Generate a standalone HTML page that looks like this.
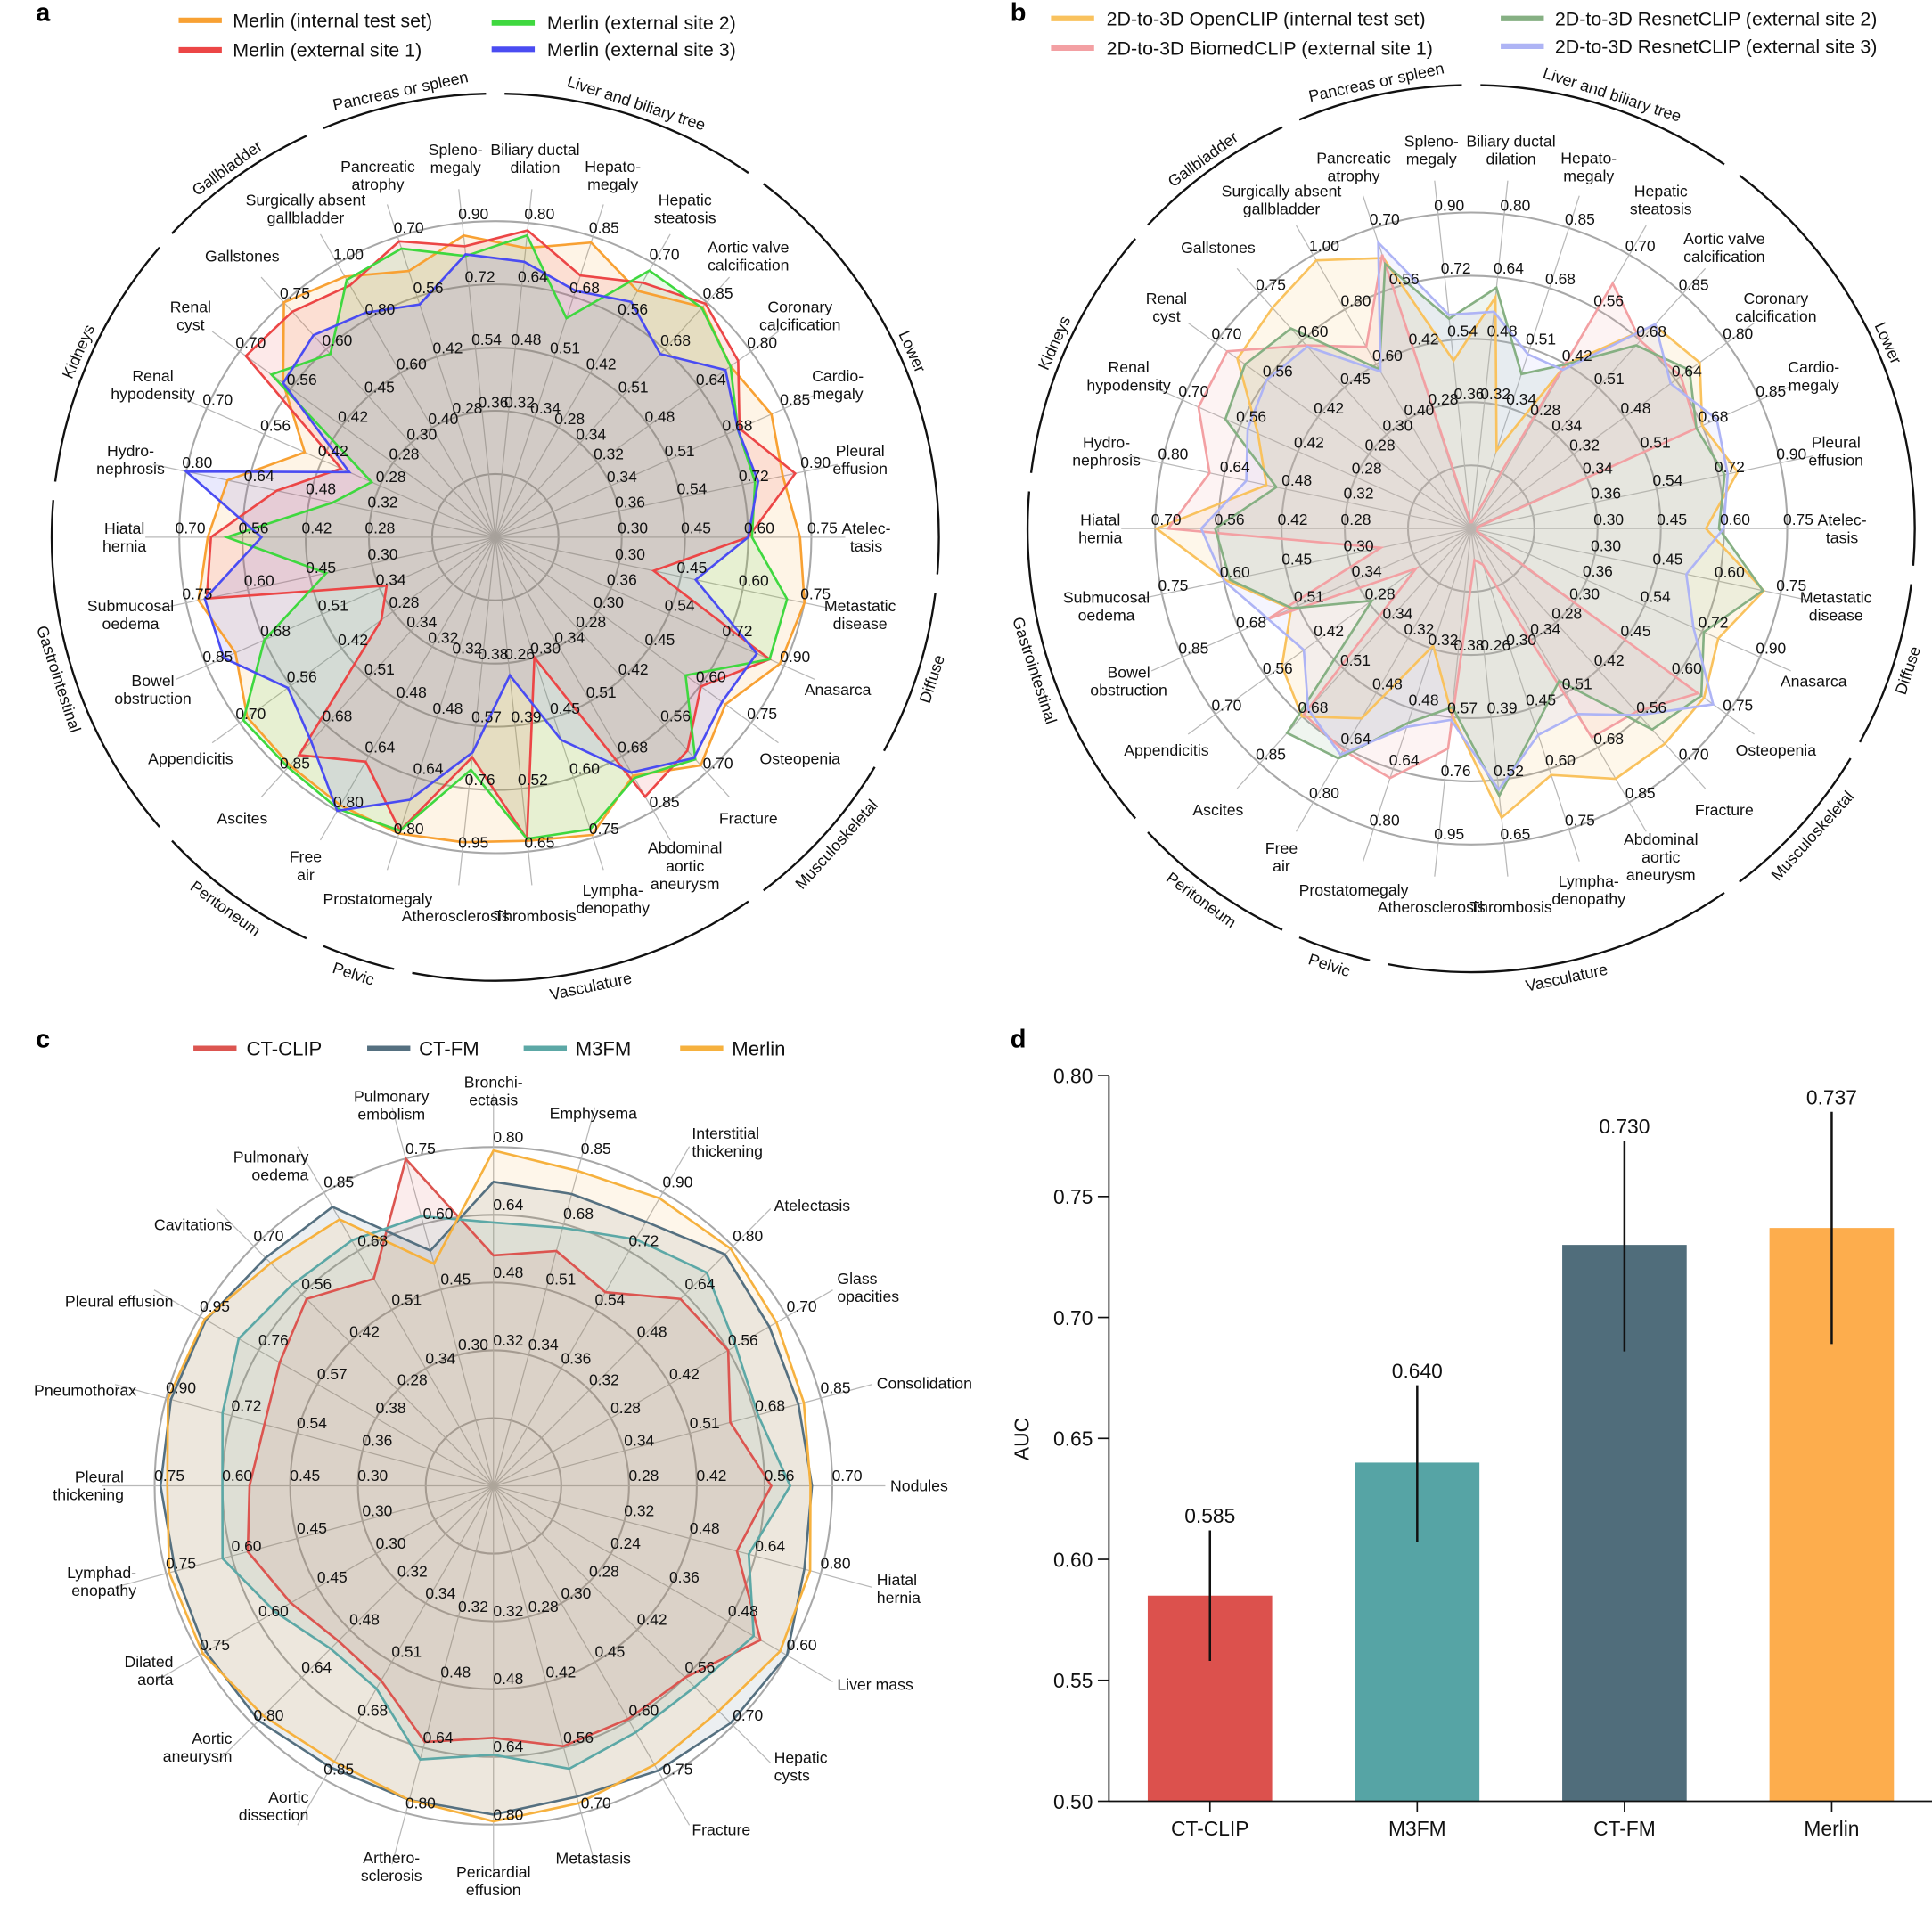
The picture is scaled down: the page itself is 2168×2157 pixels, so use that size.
<!DOCTYPE html>
<html><head><meta charset="utf-8"><title>Radar and bar chart figure</title>
<style>
html,body{margin:0;padding:0;background:#fff;}
svg{display:block;font-family:"Liberation Sans",Arial,sans-serif;}
</style></head>
<body>
<svg id="fig" xmlns="http://www.w3.org/2000/svg" viewBox="0 0 1568 1560" width="2168" height="2157" preserveAspectRatio="none">
<rect x="0" y="0" width="1568" height="1560" fill="#ffffff"/>
<text x="29" y="17" font-size="21" font-weight="bold">a</text>
<text x="820" y="17" font-size="21" font-weight="bold">b</text>
<text x="29" y="850" font-size="21" font-weight="bold">c</text>
<text x="820" y="850" font-size="21" font-weight="bold">d</text>
</svg>
<script>
// ---------- DATA ----------
const aLabels = ["Biliary ductal|dilation","Hepato-|megaly","Hepatic|steatosis","Aortic valve|calcification","Coronary|calcification","Cardio-|megaly","Pleural|effusion","Atelec-|tasis","Metastatic|disease","Anasarca","Osteopenia","Fracture","Abdominal|aortic|aneurysm","Lympha-|denopathy","Thrombosis","Atherosclerosis","Prostatomegaly","Free|air","Ascites","Appendicitis","Bowel|obstruction","Submucosal|oedema","Hiatal|hernia","Hydro-|nephrosis","Renal|hypodensity","Renal|cyst","Gallstones","Surgically absent|gallbladder","Pancreatic|atrophy","Spleno-|megaly"];
const aTicks = [[.32,.48,.64,.80],[.34,.51,.68,.85],[.28,.42,.56,.70],[.34,.51,.68,.85],[.32,.48,.64,.80],[.34,.51,.68,.85],[.36,.54,.72,.90],[.30,.45,.60,.75],[.30,.45,.60,.75],[.36,.54,.72,.90],[.30,.45,.60,.75],[.28,.42,.56,.70],[.34,.51,.68,.85],[.30,.45,.60,.75],[.26,.39,.52,.65],[.38,.57,.76,.95],[.32,.48,.64,.80],[.32,.48,.64,.80],[.34,.51,.68,.85],[.28,.42,.56,.70],[.34,.51,.68,.85],[.30,.45,.60,.75],[.28,.42,.56,.70],[.32,.48,.64,.80],[.28,.42,.56,.70],[.28,.42,.56,.70],[.30,.45,.60,.75],[.40,.60,.80,1.00],[.28,.42,.56,.70],[.36,.54,.72,.90]];
const groupNames = ["Liver and biliary tree","Lower","Diffuse","Musculoskeletal","Vasculature","Pelvic","Peritoneum","Gastrointestinal","Kidneys","Gallbladder","Pancreas or spleen"];
const groupFirst = [0,3,8,10,12,16,17,19,23,26,28];
const groupLast  = [2,7,9,11,15,16,18,22,25,27,29];

const aMerlinInternal = [.736,.833,.63,.833,.736,.813,.837,.723,.75,.887,.675,.68,.741,.743,.628,.922,.789,.784,.826,.679,.765,.72,.637,.693,.462,.581,.75,.952,.62,.864];
const aMerlinSite1    = [.781,.74,.651,.845,.76,.719,.873,.60,.384,.855,.603,.636,.806,.30,.624,.665,.781,.656,.789,.312,.32,.70,.63,.566,.374,.683,.72,.92,.689,.833];
const aMerlinSite2    = [.768,.619,.682,.83,.736,.714,.756,.609,.708,.855,.558,.662,.748,.729,.624,.703,.781,.795,.833,.69,.68,.41,.595,.421,.30,.613,.585,.94,.672,.805];
const aMerlinSite3    = [.701,.697,.602,.663,.72,.714,.765,.60,.486,.815,.665,.658,.731,.506,.286,.65,.699,.80,.74,.568,.799,.705,.518,.80,.354,.581,.645,.82,.542,.81];
const aSeriesNames = ["Merlin (internal test set)","Merlin (external site 1)","Merlin (external site 2)","Merlin (external site 3)"];

const bOpenClip = [.589,.221,.42,.736,.715,.68,.776,.557,.71,.77,.683,.641,.777,.615,.598,.561,.312,.555,.68,.518,.53,.594,.697,.53,.517,.64,.705,.98,.63,.481];
const bBiomed   = [.016,.034,.627,.68,.656,.663,.018,.015,.015,.018,.665,.546,.649,.09,.065,.665,.664,.648,.672,.151,.598,.219,.671,.677,.661,.668,.585,.664,.638,.018];
const bResnet2  = [.613,.437,.42,.663,.683,.663,.738,.588,.708,.725,.675,.599,.473,.495,.553,.54,.517,.672,.74,.272,.527,.585,.567,.504,.596,.619,.639,.582,.616,.601];
const bResnet3  = [.552,.493,.406,.74,.624,.723,.747,.599,.522,.693,.71,.556,.576,.515,.54,.578,.528,.661,.655,.458,.598,.599,.598,.582,.542,.56,.581,.574,.666,.612];
const bSeriesNames = ["2D-to-3D OpenCLIP (internal test set)","2D-to-3D BiomedCLIP (external site 1)","2D-to-3D ResnetCLIP (external site 2)","2D-to-3D ResnetCLIP (external site 3)"];

const cLabels = ["Bronchi-|ectasis","Emphysema","Interstitial|thickening","Atelectasis","Glass|opacities","Consolidation","Nodules","Hiatal|hernia","Liver mass","Hepatic|cysts","Fracture","Metastasis","Pericardial|effusion","Arthero-|sclerosis","Aortic|dissection","Aortic|aneurysm","Dilated|aorta","Lymphad-|enopathy","Pleural|thickening","Pneumothorax","Pleural effusion","Cavitations","Pulmonary|oedema","Pulmonary|embolism"];
const cTicks = [[.32,.48,.64,.80],[.34,.51,.68,.85],[.36,.54,.72,.90],[.32,.48,.64,.80],[.28,.42,.56,.70],[.34,.51,.68,.85],[.28,.42,.56,.70],[.32,.48,.64,.80],[.24,.36,.48,.60],[.28,.42,.56,.70],[.30,.45,.60,.75],[.28,.42,.56,.70],[.32,.48,.64,.80],[.32,.48,.64,.80],[.34,.51,.68,.85],[.32,.48,.64,.80],[.30,.45,.60,.75],[.30,.45,.60,.75],[.30,.45,.60,.75],[.36,.54,.72,.90],[.38,.57,.76,.95],[.28,.42,.56,.70],[.34,.51,.68,.85],[.30,.45,.60,.75]];
const cCtClip = [.544,.61,.594,.624,.56,.615,.574,.595,.546,.56,.596,.557,.595,.626,.564,.518,.518,.563,.54,.63,.692,.546,.60,.749];
const cCtFm   = [.718,.758,.81,.773,.658,.792,.658,.76,.60,.693,.728,.665,.776,.768,.816,.784,.735,.729,.737,.887,.931,.666,.808,.539];
const cM3fm   = [.622,.67,.756,.712,.578,.687,.613,.624,.532,.588,.63,.605,.635,.669,.587,.544,.558,.621,.60,.745,.825,.588,.711,.618];
const cMerlin = [.792,.818,.882,.792,.675,.806,.655,.774,.586,.658,.713,.679,.792,.768,.799,.768,.743,.743,.722,.895,.935,.651,.772,.509];
const cSeriesNames = ["CT-CLIP","CT-FM","M3FM","Merlin"];

const dModels = ["CT-CLIP","M3FM","CT-FM","Merlin"];
const dAuc    = [0.585,0.640,0.730,0.737];
const dLow    = [0.558,0.607,0.686,0.689];
const dHigh   = [0.612,0.672,0.773,0.785];
const dTicks  = [0.50,0.55,0.60,0.65,0.70,0.75,0.80];

// ---------- DRAWING ----------
const NS = "http://www.w3.org/2000/svg";
const svg = document.getElementById("fig");
function mk(tag, attrs, parent){
  const e = document.createElementNS(NS, tag);
  for (const k in attrs) e.setAttribute(k, attrs[k]);
  parent.appendChild(e);
  return e;
}
function pt(cx, cy, r, deg){
  const t = deg*Math.PI/180;
  return [cx + r*Math.sin(t), cy - r*Math.cos(t)];
}
function slug(s){ return s.toLowerCase().replace(/[^a-z0-9]+/g,"-").replace(/^-|-$/g,""); }

function multiText(parent, x, y, lines, size, anchor, lh){
  const t = mk("text", {x:x, y:y, "font-size":size, "text-anchor":anchor, fill:"#111"}, parent);
  const off = -(lines.length-1)*lh/2 + size*0.35;
  lines.forEach((ln, j) => {
    const s = mk("tspan", {x:x, dy:(j===0? off : lh)}, t);
    s.textContent = ln;
  });
  return t;
}

function radar(cfg){
  const g = mk("g", {}, svg);
  
  
  const n = cfg.labels.length, da = 360/n;
  const ang = i => cfg.a0 + i*da;
  for (let k=1; k<=5; k++){
    const c = mk("circle", {cx:cfg.cx, cy:cfg.cy, r:k*cfg.u, fill:"none", stroke:"#a8a8a8", "stroke-width":1.5}, g);
    
    
  }
  for (let i=0; i<n; i++){
    const p = pt(cfg.cx, cfg.cy, cfg.spokeEnd, ang(i));
    const l = mk("line", {x1:cfg.cx, y1:cfg.cy, x2:p[0], y2:p[1], stroke:"#b8b8b8", "stroke-width":0.9}, g);
    
    
  }
  const toPts = vals => vals.map((v, i) => {
      const t = cfg.ticks[i];
      let r = cfg.u*(2 + (v - t[0])/(t[1]-t[0]));
      if (r < 0) r = 0;
      const p = pt(cfg.cx, cfg.cy, r, ang(i));
      return p[0].toFixed(1) + "," + p[1].toFixed(1);
    }).join(" ");
  cfg.series.forEach((vals, s) => {
    const f = mk("polygon", {points:toPts(vals), fill:cfg.colors[s], "fill-opacity":cfg.fillOp, stroke:"none"}, g);
    
    
  });
  cfg.series.forEach((vals, s) => {
    const l = mk("polygon", {points:toPts(vals), fill:"none", stroke:cfg.colors[s], "stroke-width":cfg.lineW}, g);
    
    
  });
  for (let i=0; i<n; i++){
    for (let k=0; k<4; k++){
      const p = pt(cfg.cx, cfg.cy, (k+2)*cfg.u, ang(i));
      const t = mk("text", {x:p[0]+cfg.tickOff[0], y:p[1]+cfg.tickOff[1]+cfg.tickFont*0.36, "font-size":cfg.tickFont, "text-anchor":"middle", fill:"#111"}, g);
      t.textContent = cfg.ticks[i][k].toFixed(2);
      
      
    }
  }
  for (let i=0; i<n; i++){
    const lines = cfg.labels[i].split("|");
    const a = ang(i)*Math.PI/180;
    const sn = Math.sin(a), cs = Math.cos(a);
    let t;
    if (cfg.mode === "anchor" && sn > 0.3){
      const p = pt(cfg.cx, cfg.cy, cfg.rRight, ang(i));
      t = multiText(g, p[0], p[1], lines, cfg.labFont, "start", cfg.lh);
    } else if (cfg.mode === "anchor" && sn < -0.3){
      const p = pt(cfg.cx, cfg.cy, cfg.rLeft, ang(i));
      t = multiText(g, p[0], p[1], lines, cfg.labFont, "end", cfg.lh);
    } else {
      const h = lines.length*cfg.lh;
      const r = cfg.labR + Math.abs(cs)*(cfg.mode === "anchor" ? h/2 : 8);
      const p = pt(cfg.cx, cfg.cy, r, ang(i));
      t = multiText(g, p[0], p[1], lines, cfg.labFont, "middle", cfg.lh);
    }
    
    
  }
  return g;
}

function groupArcs(id, cx, cy, R){
  const g = mk("g", {}, svg);
  
  
  groupNames.forEach((name, j) => {
    const s = 6 + groupFirst[j]*12 - 4.8, e = 6 + groupLast[j]*12 + 4.8;
    const p1 = pt(cx, cy, R, s), p2 = pt(cx, cy, R, e);
    const path = mk("path", {d:`M${p1[0]},${p1[1]} A${R},${R} 0 0 1 ${p2[0]},${p2[1]}`, fill:"none", stroke:"#111", "stroke-width":1.7}, g);
    
    
    const m = (s + e)/2;
    const bottom = m > 90 && m < 270;
    const rr = bottom ? R + 17 : R + 6;
    const q = pt(cx, cy, rr, m);
    const rot = bottom ? m - 180 : m;
    const t = mk("text", {x:q[0], y:q[1], "font-size":13, "text-anchor":"middle", fill:"#111", transform:`rotate(${rot} ${q[0]} ${q[1]})`}, g);
    t.textContent = name;
    
    
  });
}

function legend(id, items, colors, xs, ys, tx, font){
  const g = mk("g", {}, svg);
  
  
  items.forEach((name, i) => {
    const l = mk("line", {x1:xs[i], y1:ys[i], x2:xs[i]+35, y2:ys[i], stroke:colors[i], "stroke-width":4.5}, g);
    
    
    const t = mk("text", {x:tx[i], y:ys[i]+5.5, "font-size":font, fill:"#111"}, g);
    t.textContent = name;
    
    
  });
}

// Panel a
groupArcs("panel-a", 402, 436, 360);
radar({id:"panel-a", cx:402, cy:436, u:51.3, a0:6, labels:aLabels, ticks:aTicks,
  series:[aMerlinInternal, aMerlinSite1, aMerlinSite2, aMerlinSite3],
  colors:["#f8a133","#ec4646","#3fd83f","#4a4cf2"], names:aSeriesNames,
  fillOp:0.12, lineW:1.9, tickFont:12.6, labFont:12.8, lh:14.5, labR:301, spokeEnd:284, tickOff:[9,-7.5], mode:"center"});
legend("panel-a", aSeriesNames, ["#f8a133","#ec4646","#3fd83f","#4a4cf2"],
  [145,145,399,399], [16.5,40.5,18.5,40], [189,189,444,444], 15.5);

// Panel b
groupArcs("panel-b", 1194, 429, 360);
radar({id:"panel-b", cx:1194, cy:429, u:51.3, a0:6, labels:aLabels, ticks:aTicks,
  series:[bOpenClip, bBiomed, bResnet2, bResnet3],
  colors:["#f9c25e","#f3a0a3","#86b083","#aeb4f5"], names:bSeriesNames,
  fillOp:0.13, lineW:1.9, tickFont:12.6, labFont:12.8, lh:14.5, labR:301, spokeEnd:284, tickOff:[9,-7.5], mode:"center"});
legend("panel-b", bSeriesNames, ["#f9c25e","#f3a0a3","#86b083","#aeb4f5"],
  [853,853,1218,1218], [15,39,15,37.5], [898,898,1262,1262], 15.5);

// Panel c
radar({id:"panel-c", cx:400.5, cy:1206, u:55, a0:0, labels:cLabels, ticks:cTicks,
  series:[cCtClip, cCtFm, cM3fm, cMerlin],
  colors:["#dc5550","#557080","#5ca8a6","#f6b13e"], names:cSeriesNames,
  fillOp:0.11, lineW:1.9, tickFont:12.6, labFont:12.8, lh:14.5, labR:306, spokeEnd:318, tickOff:[12,-8.5],
  mode:"anchor", rRight:322, rLeft:300});
legend("panel-c", cSeriesNames, ["#dc5550","#557080","#5ca8a6","#f6b13e"],
  [157,298,425,552], [851,851,851,851], [200,340,467,594], 16);

// Panel d
(function(){
  const g = mk("g", {}, svg);
  
  
  const x0 = 900, yTop = 873, yBot = 1462, vMin = 0.5, vMax = 0.8;
  const y = v => yBot - (v - vMin)/(vMax - vMin)*(yBot - yTop);
  const xc = i => 982 + i*168.2;
  const colors = ["#dc514d","#56a4a5","#506d7b","#fdad4d"];
  dModels.forEach((m, i) => {
    const b = mk("rect", {x:xc(i)-50.5, y:y(dAuc[i]), width:101, height:yBot - y(dAuc[i]), fill:colors[i]}, g);
    
    
  });
  const ax = mk("line", {x1:x0, y1:yTop, x2:x0, y2:yBot, stroke:"#111", "stroke-width":1.3}, g);
  
  
  const bx = mk("line", {x1:x0, y1:yBot, x2:1568, y2:yBot, stroke:"#111", "stroke-width":1.3}, g);
  
  
  dTicks.forEach(v => {
    const tk = mk("line", {x1:x0-9, y1:y(v), x2:x0, y2:y(v), stroke:"#111", "stroke-width":1.2}, g);
    
    
    const t = mk("text", {x:x0-13, y:y(v)+6, "font-size":16.5, "text-anchor":"end", fill:"#111"}, g);
    t.textContent = v.toFixed(2);
    
    
  });
  dModels.forEach((m, i) => {
    const e = mk("line", {x1:xc(i), y1:y(dLow[i]), x2:xc(i), y2:y(dHigh[i]), stroke:"#111", "stroke-width":1.8}, g);
    
    
    const v = mk("text", {x:xc(i), y:y(dHigh[i])-6, "font-size":16.5, "text-anchor":"middle", fill:"#111"}, g);
    v.textContent = dAuc[i].toFixed(3);
    
    
    const tk = mk("line", {x1:xc(i), y1:yBot, x2:xc(i), y2:yBot+9, stroke:"#111", "stroke-width":1.2}, g);
    
    
    const c = mk("text", {x:xc(i), y:yBot+28, "font-size":16.5, "text-anchor":"middle", fill:"#111"}, g);
    c.textContent = m;
    
    
  });
  const yl = mk("text", {x:835, y:1168, "font-size":16.5, "text-anchor":"middle", fill:"#111", transform:"rotate(-90 835 1168)"}, g);
  yl.textContent = "AUC";
  
  
})();
</script>
</body></html>
